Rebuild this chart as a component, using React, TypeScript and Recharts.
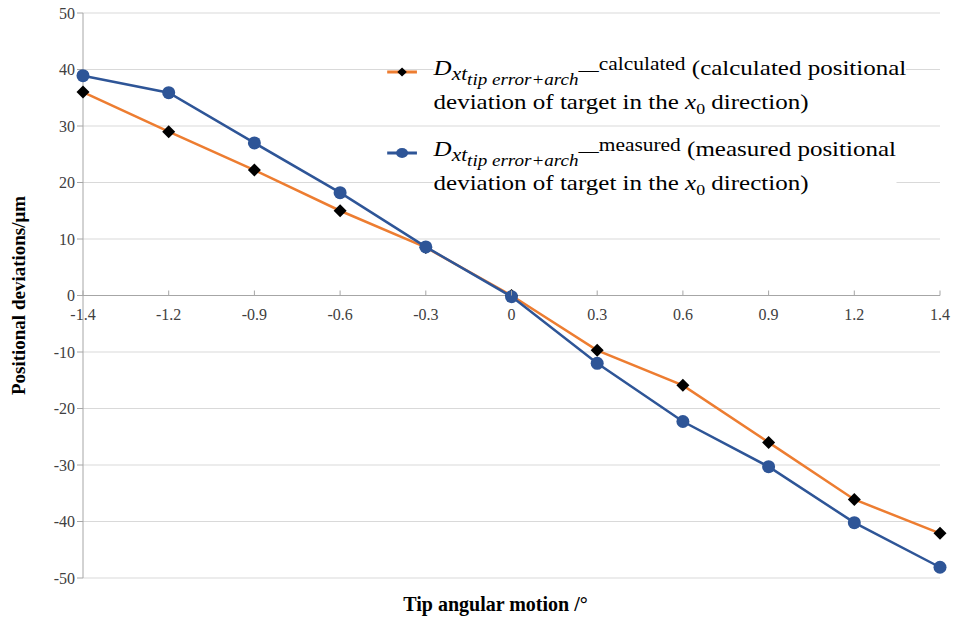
import React from "react";
import { LineChart, Line, XAxis, YAxis, CartesianGrid, ReferenceLine, Label } from "recharts";

const angles = ["-1.4", "-1.2", "-0.9", "-0.6", "-0.3", "0", "0.3", "0.6", "0.9", "1.2", "1.4"];
const calculated = [36, 29, 22.2, 15, 8.5, 0, -9.7, -15.9, -26, -36.1, -42.1];
const measured = [38.9, 35.9, 27, 18.2, 8.6, -0.2, -12, -22.3, -30.3, -40.2, -48.1];
const yTicks = [-50, -40, -30, -20, -10, 0, 10, 20, 30, 40, 50];

const data = angles.map((a, i) => ({ angle: a, calculated: calculated[i], measured: measured[i] }));

const W = 955;
const H = 619;
const TOP = 13;
const PLOT_H = 565;
const ZERO_Y = TOP + PLOT_H / 2;

const ORANGE = "#ED7D31";
const BLUE = "#2E5597";
const SERIF = '"Liberation Serif", "Times New Roman", Times, serif';

function Diamond(props: any) {
  const { cx, cy } = props;
  if (cx == null || cy == null) return null;
  const s = 6.5;
  return <path d={`M${cx},${cy - s}L${cx + s},${cy}L${cx},${cy + s}L${cx - s},${cy}Z`} fill="#000" />;
}

function Dot(props: any) {
  const { cx, cy } = props;
  if (cx == null || cy == null) return null;
  return <circle cx={cx} cy={cy} r={6.5} fill={BLUE} />;
}

// x labels sit under the zero line, not at the bottom of the plot
function ZeroTick(props: any) {
  const { x, payload } = props;
  return (
    <g>
      <line x1={x} x2={x} y1={ZERO_Y - 5} y2={ZERO_Y} stroke="#a6a6a6" />
      <text x={x} y={ZERO_Y + 24} textAnchor="middle" fill="#404040" fontSize={16} fontFamily={SERIF}>
        {payload.value}
      </text>
    </g>
  );
}

const subStyle = { lineHeight: 0, verticalAlign: "-5px" };

function LegendEntry({ color, marker, sub }: { color: string; marker: "diamond" | "circle"; sub: string }) {
  return (
    <div style={{ display: "flex", alignItems: "flex-start", marginBottom: 14 }}>
      <svg width={27} height={33} style={{ flex: "none" }}>
        <line x1={1} x2={26} y1={20} y2={20} stroke={color} strokeWidth={3} />
        {marker === "diamond" ? (
          <path d="M13.5,15.5L17.5,20L13.5,24.5L9.5,20Z" fill="#000" />
        ) : (
          <circle cx={13.5} cy={20} r={5} fill={color} />
        )}
      </svg>
      <div
        style={{
          fontFamily: SERIF,
          fontSize: 21,
          color: "#000",
          lineHeight: "33px",
          marginLeft: 13,
          whiteSpace: "nowrap",
          background: "#fff",
        }}
      >
        <div>
          <i>D</i>
          <sub style={{ ...subStyle, fontSize: 18 }}>
            <i>xt</i>
            <sub style={{ ...subStyle, fontSize: 16 }}>
              <i>tip error+arch</i>
            </sub>
          </sub>
          <span style={{ fontSize: 17 }}>—</span>
          <span style={{ fontSize: 18, verticalAlign: "5px", lineHeight: 0 }}>{sub}</span> ({sub} positional
        </div>
        <div>
          deviation of target in the <i>x</i>
          <sub style={{ fontSize: 15, lineHeight: 0 }}>0</sub> direction)
        </div>
      </div>
    </div>
  );
}

export default function App() {
  return (
    <div style={{ position: "absolute", left: 0, top: 0, width: W, height: H, background: "#fff", fontFamily: SERIF }}>
      <LineChart width={W} height={H} data={data} margin={{ top: TOP, right: 15, left: 0, bottom: 0 }}>
        <CartesianGrid stroke="#d9d9d9" vertical={false} />
        <XAxis
          dataKey="angle"
          height={41}
          axisLine={false}
          tickLine={false}
          tick={<ZeroTick />}
          interval={0}
        >
          <Label
            value="Tip angular motion /°"
            position="insideBottom"
            offset={8}
            dx={-16}
            style={{ fontFamily: SERIF, fontWeight: "bold", fontSize: 20, fill: "#000" }}
          />
        </XAxis>
        <YAxis
          width={83}
          domain={[-50, 50]}
          ticks={yTicks}
          interval={0}
          axisLine={{ stroke: "#a6a6a6" }}
          tickLine={{ stroke: "#a6a6a6" }}
          tickSize={6}
          tick={{ fill: "#404040", fontSize: 16, fontFamily: SERIF }}
        >
          <Label
            value="Positional deviations/μm"
            angle={-90}
            position="insideLeft"
            offset={18}
            style={{ textAnchor: "middle", fontFamily: SERIF, fontWeight: "bold", fontSize: 19, fill: "#000" }}
          />
        </YAxis>
        <ReferenceLine y={0} stroke="#a6a6a6" />
        <Line
          dataKey="calculated"
          stroke={ORANGE}
          strokeWidth={2.5}
          dot={<Diamond />}
          activeDot={false}
          isAnimationActive={false}
        />
        <Line
          dataKey="measured"
          stroke={BLUE}
          strokeWidth={2.5}
          dot={<Dot />}
          activeDot={false}
          isAnimationActive={false}
        />
      </LineChart>
      <div
        style={{
          position: "absolute",
          left: 386,
          top: 52,
          transform: "scaleX(1.19)",
          transformOrigin: "left top",
        }}
      >
        <LegendEntry color={ORANGE} marker="diamond" sub="calculated" />
        <LegendEntry color={BLUE} marker="circle" sub="measured" />
      </div>
    </div>
  );
}
